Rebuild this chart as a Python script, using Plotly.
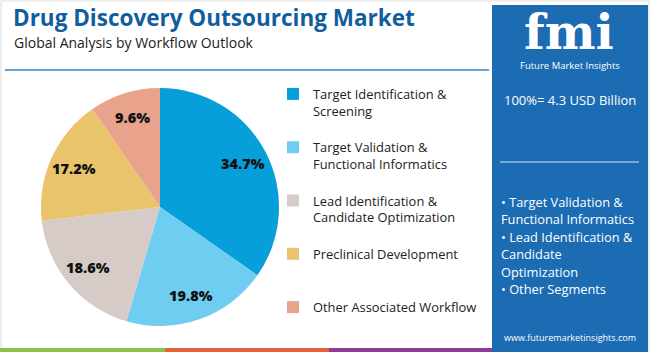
import math
import plotly.graph_objects as go

W, H = 650, 352

categories = [
    "Target Identification &<br>Screening",
    "Target Validation &<br>Functional Informatics",
    "Lead Identification &<br>Candidate Optimization",
    "Preclinical Development",
    "Other Associated Workflow",
]
values = [34.7, 19.8, 18.6, 17.2, 9.6]
value_labels = ["34.7%", "19.8%", "18.6%", "17.2%", "9.6%"]
colors = ["#079fd9", "#6fcdf1", "#d6cbc7", "#e9c46c", "#e9a28b"]

bullets = ["• Target Validation &", "Functional Informatics", "• Lead Identification &",
           "Candidate", "Optimization", "• Other Segments"]


def px(x):
    return x / W


def py(y):
    return 1 - y / H


# pie placement (pixels)
PIE_CX, PIE_CY, PIE_R = 160, 207, 119
LABEL_R = 0.79

legend_names = []
for i, c in enumerate(categories):
    n = c.count("<br>") + 1
    pad = 0 if i == len(categories) - 1 else 3 - n
    legend_names.append(c + "<br> " * pad)

FONT = "Open Sans"

fig = go.Figure()
fig.add_trace(go.Pie(
    labels=legend_names,
    values=values,
    textinfo="none",
    marker=dict(colors=colors, line=dict(width=0)),
    sort=False,
    direction="clockwise",
    rotation=0,
    hoverinfo="skip",
    domain=dict(x=[px(PIE_CX - PIE_R), px(PIE_CX + PIE_R)],
                y=[py(PIE_CY + PIE_R), py(PIE_CY - PIE_R)]),
))

shapes = [
    dict(type="rect", xref="paper", yref="paper", x0=px(1), x1=px(649), y0=py(351), y1=py(1),
         line=dict(color="#dcdcdc", width=1), fillcolor="rgba(0,0,0,0)", layer="below"),
    dict(type="line", xref="paper", yref="paper", x0=px(5), x1=px(489), y0=py(70), y1=py(70),
         line=dict(color="#3b82c4", width=1.5)),
    dict(type="rect", xref="paper", yref="paper", x0=px(492), x1=px(648), y0=py(352), y1=py(5),
         line=dict(width=0), fillcolor="#1c6cb3", layer="below"),
    dict(type="line", xref="paper", yref="paper", x0=px(500), x1=px(639), y0=py(162), y1=py(162),
         line=dict(color="rgba(255,255,255,0.55)", width=1.5)),
    dict(type="rect", xref="paper", yref="paper", x0=px(0), x1=px(165), y0=py(352), y1=py(348),
         line=dict(width=0), fillcolor="#8bc34a"),
    dict(type="rect", xref="paper", yref="paper", x0=px(165), x1=px(329), y0=py(352), y1=py(348),
         line=dict(width=0), fillcolor="#e4633a"),
    dict(type="rect", xref="paper", yref="paper", x0=px(329), x1=px(492), y0=py(352), y1=py(348),
         line=dict(width=0), fillcolor="#8e3a96"),
]

annotations = [
    dict(text="<b>Drug Discovery Outsourcing Market</b>", x=px(11), y=py(17), xanchor="left",
         yanchor="middle", showarrow=False, font=dict(family=FONT, size=22.5, color="#115e9e")),
    dict(text="Global Analysis by Workflow Outlook", x=px(12), y=py(42), xanchor="left",
         yanchor="middle", showarrow=False, font=dict(family=FONT, size=14, color="#222222")),
    dict(text="<b>fmi</b>", x=px(569), y=py(32), xanchor="center", yanchor="middle",
         showarrow=False, font=dict(family="DejaVu Serif", size=48, color="#ffffff")),
    dict(text="Future Market Insights", x=px(570), y=py(65), xanchor="center", yanchor="middle",
         showarrow=False, font=dict(family=FONT, size=9.5, color="#ffffff")),
    dict(text="100%= 4.3 USD Billion", x=px(570), y=py(100), xanchor="center", yanchor="middle",
         showarrow=False, font=dict(family=FONT, size=13, color="#ffffff")),
    dict(text="www.futuremarketinsights.com", x=px(570), y=py(337), xanchor="center",
         yanchor="middle", showarrow=False, font=dict(family=FONT, size=9, color="#ffffff")),
]

# bullet lines in the side panel
for i, line in enumerate(bullets):
    annotations.append(dict(text=line, x=px(499), y=py(202 + 17.4 * i), xanchor="left",
                            yanchor="middle", showarrow=False,
                            font=dict(family=FONT, size=12.8, color="#ffffff")))

# percentage labels placed along each slice's bisector (clockwise from 12 o'clock)
total = sum(values)
cum = 0.0
for v, lab in zip(values, value_labels):
    mid = (cum + v / 2) / total * 2 * math.pi
    cum += v
    lx = PIE_CX + LABEL_R * PIE_R * math.sin(mid)
    ly = PIE_CY - LABEL_R * PIE_R * math.cos(mid)
    annotations.append(dict(text=lab, x=px(lx), y=py(ly), xanchor="center", yanchor="middle",
                            showarrow=False,
                            font=dict(family=FONT, size=14.5, color="#111111", weight=800)))

fig.update_layout(
    width=W, height=H,
    margin=dict(l=0, r=0, t=0, b=0, autoexpand=False),
    paper_bgcolor="#ffffff",
    plot_bgcolor="#ffffff",
    shapes=shapes,
    annotations=annotations,
    showlegend=True,
    legend=dict(
        x=px(273), y=py(79), xanchor="left", yanchor="top",
        valign="top",
        font=dict(family=FONT, size=12.9, color="#222222"),
        bgcolor="rgba(0,0,0,0)",
        itemclick=False, itemdoubleclick=False,
    ),
)

fig.write_html("out.html")
